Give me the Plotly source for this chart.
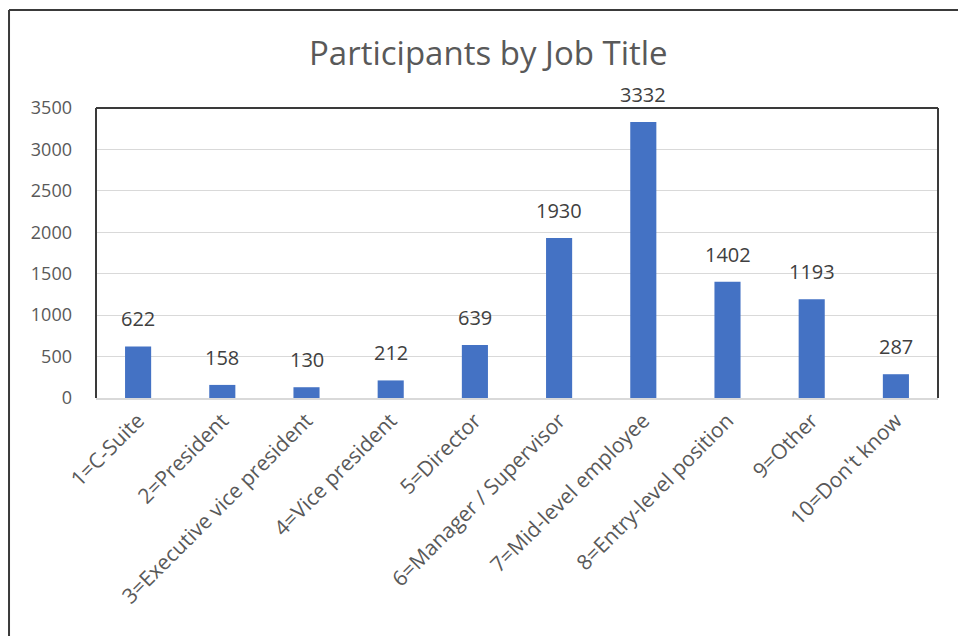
import plotly.graph_objects as go

# Survey participants grouped by job title
categories = [
    "1=C-Suite",
    "2=President",
    "3=Executive vice president",
    "4=Vice president",
    "5=Director",
    "6=Manager / Supervisor",
    "7=Mid-level employee",
    "8=Entry-level position",
    "9=Other",
    "10=Don't know",
]
participants = [622, 158, 130, 212, 639, 1930, 3332, 1402, 1193, 287]
y_ticks = [0, 500, 1000, 1500, 2000, 2500, 3000, 3500]

BAR_BLUE = "#4472C4"
TICK_GREY = "#595959"
LABEL_GREY = "#404040"
FONT = "Open Sans"

fig = go.Figure(
    go.Bar(
        x=categories,
        y=participants,
        marker=dict(color=BAR_BLUE, line=dict(width=0)),
        hoverinfo="x+y",
    )
)

# value labels sitting above each bar
annotations = [
    dict(
        x=c, y=v, xref="x", yref="y", text=str(v), showarrow=False,
        yanchor="bottom", yshift=12,
        font=dict(family=FONT, size=20, color=LABEL_GREY),
    )
    for c, v in zip(categories, participants)
]
annotations.append(
    dict(
        x=0.4656, y=1.193, xref="paper", yref="paper",
        text="Participants by Job Title", showarrow=False,
        xanchor="center", yanchor="middle",
        font=dict(family=FONT, size=33, color=TICK_GREY),
    )
)

shapes = [
    # chart frame (left and top edges)
    dict(type="line", xref="paper", yref="paper", x0=-0.1033, x1=-0.1033,
         y0=-1.0, y1=1.338, line=dict(color="#3a3a3a", width=2)),
    dict(type="line", xref="paper", yref="paper", x0=-0.1033, x1=1.2,
         y0=1.338, y1=1.338, line=dict(color="#3a3a3a", width=2)),
    # plot-area border on top, left and right
    dict(type="line", xref="paper", yref="paper", x0=0, x1=0, y0=0, y1=1,
         line=dict(color="#3a3a3a", width=2)),
    dict(type="line", xref="paper", yref="paper", x0=0, x1=1, y0=1, y1=1,
         line=dict(color="#3a3a3a", width=2)),
    dict(type="line", xref="paper", yref="paper", x0=1, x1=1, y0=0, y1=1,
         line=dict(color="#3a3a3a", width=2)),
]

fig.update_layout(
    width=958,
    height=636,
    margin=dict(l=96, r=20, t=108, b=238),
    paper_bgcolor="white",
    plot_bgcolor="white",
    showlegend=False,
    bargap=0.69,
    annotations=annotations,
    shapes=shapes,
    font=dict(family=FONT, color=TICK_GREY),
)

fig.update_xaxes(
    tickangle=-45,
    tickfont=dict(family=FONT, size=21, color=TICK_GREY),
    showline=True,
    linecolor="#D9D9D9",
    linewidth=2,
    ticks="",
    showgrid=False,
)
fig.update_yaxes(
    range=[0, 3500],
    tickvals=y_ticks,
    tickfont=dict(family=FONT, size=18, color=TICK_GREY),
    showgrid=True,
    gridcolor="#D9D9D9",
    gridwidth=1,
    zeroline=False,
    ticks="",
    ticklabelstandoff=23,
)

fig.write_html("out.html")
